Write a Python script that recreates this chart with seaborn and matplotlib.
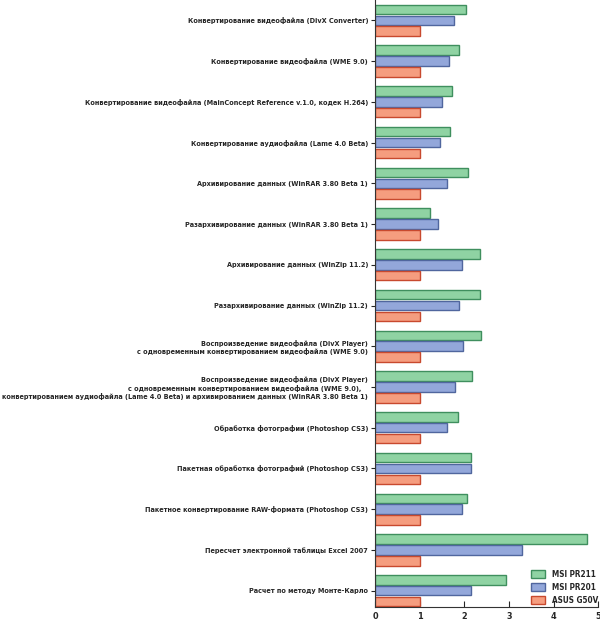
import numpy as np
import pandas as pd
import matplotlib.pyplot as plt
import seaborn as sb

# данные теста (время относительно ASUS G50V)
tests = [
    "Конвертирование видеофайла (DivX Converter)",
    "Конвертирование видеофайла (WME 9.0)",
    "Конвертирование видеофайла (MainConcept Reference v.1.0, кодек H.264)",
    "Конвертирование аудиофайла (Lame 4.0 Beta)",
    "Архивирование данных (WinRAR 3.80 Beta 1)",
    "Разархивирование данных (WinRAR 3.80 Beta 1)",
    "Архивирование данных (WinZip 11.2)",
    "Разархивирование данных (WinZip 11.2)",
    "Воспроизведение видеофайла (DivX Player)\nс одновременным конвертированием видеофайла (WME 9.0)",
    "Воспроизведение видеофайла (DivX Player)\nс одновременным конвертированием видеофайла (WME 9.0),   \n"
    "конвертированием аудиофайла (Lame 4.0 Beta) и архивированием данных (WinRAR 3.80 Beta 1)",
    "Обработка фотографии (Photoshop CS3)",
    "Пакетная обработка фотографий (Photoshop CS3)",
    "Пакетное конвертирование RAW-формата (Photoshop CS3)",
    "Пересчет электронной таблицы Excel 2007",
    "Расчет по методу Монте-Карло",
]
models = ["MSI PR211", "MSI PR201", "ASUS G50V"]
msi_pr211 = [2.04, 1.88, 1.72, 1.69, 2.08, 1.23, 2.35, 2.35, 2.38, 2.17, 1.86, 2.16, 2.06, 4.76, 2.94]
msi_pr201 = [1.78, 1.66, 1.50, 1.45, 1.61, 1.41, 1.96, 1.88, 1.97, 1.80, 1.61, 2.15, 1.94, 3.30, 2.14]
asus_g50v = [1.0] * 15

df = pd.DataFrame({
    "test": tests * 3,
    "model": np.repeat(models, len(tests)),
    "value": msi_pr211 + msi_pr201 + asus_g50v,
})

sb.set_style("ticks")
plt.rcParams['font.family'] = ['DejaVu Sans']
plt.rcParams['font.stretch'] = 'condensed'
plt.rcParams['font.weight'] = 'bold'

fills = ["#8fd3a3", "#93a7da", "#f59d7f"]
edges = ["#3f8f5e", "#50669e", "#c8492e"]

fig = plt.figure(figsize=(6, 6.27), dpi=100)
ax = fig.add_axes([0.625, 0.032, 0.372, 0.968])
sb.barplot(data=df, x="value", y="test", hue="model", orient="h",
           palette=fills, saturation=1, width=0.8, linewidth=1.0, ax=ax)

for cont, ec in zip(ax.containers, edges):
    for bar in cont:
        bar.set_edgecolor(ec)
        # небольшой зазор между полосами
        h = bar.get_height()
        bar.set_y(bar.get_y() + h * 0.06)
        bar.set_height(h * 0.88)

ax.set_xlim(0, 5)
ax.set_ylim(14.4, -0.5)
ax.set_xlabel("")
ax.set_ylabel("")
ax.set_xticks([0, 1, 2, 3, 4, 5])
ax.tick_params(axis='x', direction='in', length=4, labelsize=6.5, pad=4)
ax.tick_params(axis='y', direction='out', length=3, labelsize=5.2, pad=2)
for lbl in ax.get_yticklabels():
    lbl.set_multialignment('right')
sb.despine(ax=ax, top=True, right=True)
ax.spines['left'].set_color('#333333')
ax.spines['bottom'].set_color('#333333')

leg = ax.legend(loc='lower right', bbox_to_anchor=(1.0, 0.004), frameon=False,
                fontsize=5.9, handlelength=1.7, handleheight=1.1, borderpad=0,
                labelspacing=0.45, handletextpad=0.9, borderaxespad=0)
for patch, ec in zip(leg.get_patches(), edges):
    patch.set_edgecolor(ec)

fig.savefig("out.png", dpi=100)
